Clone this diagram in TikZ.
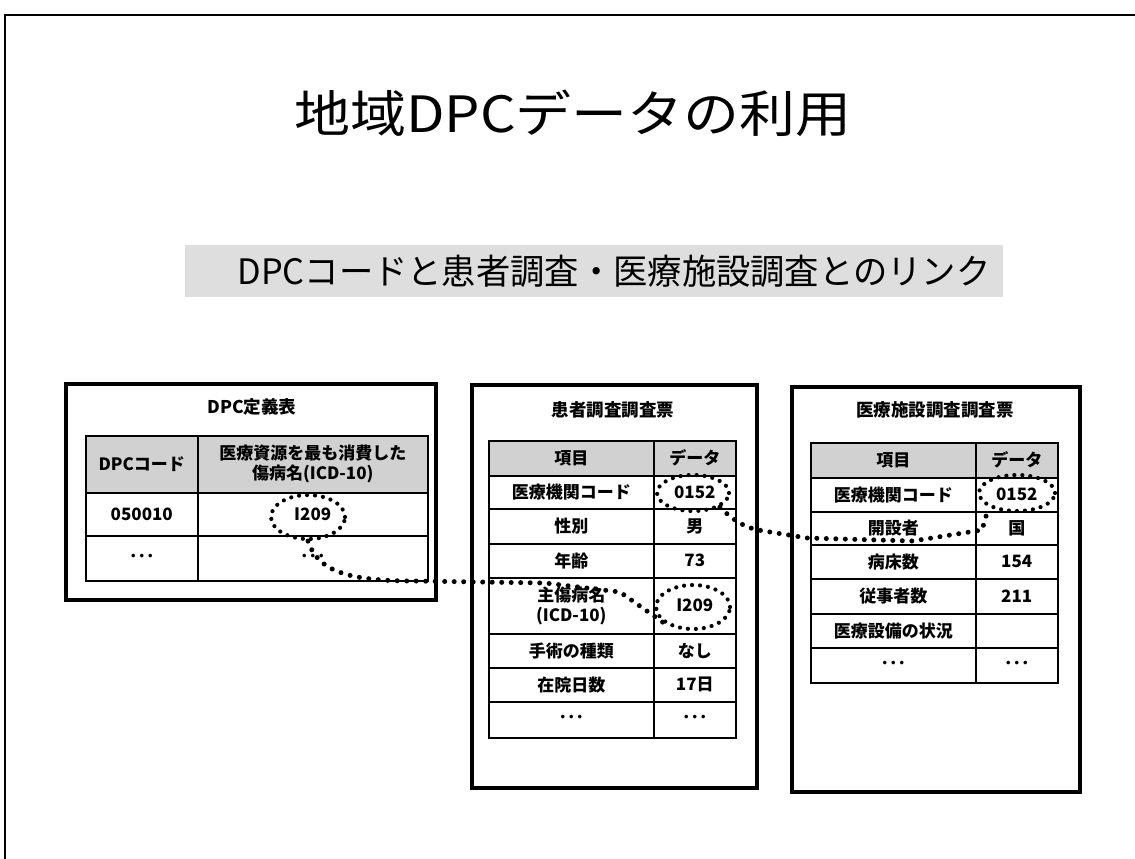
\documentclass[tikz,border=0pt]{standalone}
\usepackage{fontspec}
\setmainfont{Noto Sans CJK JP}
\usetikzlibrary{shapes.geometric}
\tikzset{
  frame/.style={draw=black,line width=3.6pt},
  tcell/.style={draw=black,line width=1.5pt,inner sep=0pt,font=\bfseries\fontsize{17}{20}\selectfont,align=center,anchor=north west},
  hcell/.style={tcell,fill=black!18},
  boxtitle/.style={font=\bfseries\fontsize{17.5}{20}\selectfont,inner sep=0pt},
  ring/.style={ellipse,draw=black,line width=4.2pt,dash pattern=on 0pt off 8pt,line cap=round,inner sep=0pt},
  link/.style={draw=black,line width=5pt,dash pattern=on 0pt off 9.5pt,line cap=round},
}
\newcommand\tc[7][tcell]{\node[#1,minimum width={(#4-#2)*1pt},minimum height={(#5-#3)*1pt}] (#6) at (#2,#3) {#7};}
\begin{document}
\begin{tikzpicture}[x=1pt,y=-1pt]
\useasboundingbox (0,0) rectangle (1135,859);
\fill[white] (0,0) rectangle (1135,859);
% slide frame
\draw[line width=2pt] (5,859) -- (5,15) -- (1135,15);
% title
\node[inner sep=0pt,font=\fontsize{50}{56}\selectfont] (title) at (573,113) {\scalebox{1.12}[1]{地域DPCデータの利用}};
% subtitle band
\node[fill=black!13,minimum width=818pt,minimum height=52pt,inner sep=0pt] (band) at (594,271) {};
\node[inner sep=0pt,font=\fontsize{35}{40}\selectfont] (sub) at (614,271) {\scalebox{0.98}[1]{DPCコードと患者調査・医療施設調査とのリンク}};

% ---------- box 1 ----------
\draw[frame] (66,384) rectangle (436,600);
\node[boxtitle] (t1) at (252,407) {DPC定義表};
\tc[hcell]{85}{435}{197}{492}{a11}{DPCコード}
\tc[hcell]{197}{435}{427}{492}{a12}{医療資源を最も消費した\\傷病名(ICD-10)}
\tc{85}{492}{197}{535}{a21}{050010}
\tc{197}{492}{427}{535}{a22}{I209}
\tc{85}{535}{197}{580}{a31}{･･･}
\tc{197}{535}{427}{580}{a32}{･･･}

% ---------- box 2 ----------
\draw[frame] (472,385) rectangle (757,788);
\node[boxtitle] (t2) at (613,410) {患者調査調査票};
\tc[hcell]{488}{440}{653}{475}{b11}{項目}
\tc[hcell]{653}{440}{735}{475}{b12}{データ}
\tc{488}{475}{653}{508}{b21}{医療機関コード}
\tc{653}{475}{735}{508}{b22}{0152}
\tc{488}{508}{653}{543}{b31}{性別}
\tc{653}{508}{735}{543}{b32}{男}
\tc{488}{543}{653}{577}{b41}{年齢}
\tc{653}{543}{735}{577}{b42}{73}
\tc{488}{577}{653}{633}{b51}{主傷病名\\(ICD-10)}
\tc{653}{577}{735}{633}{b52}{I209}
\tc{488}{633}{653}{667}{b61}{手術の種類}
\tc{653}{633}{735}{667}{b62}{なし}
\tc{488}{667}{653}{701}{b71}{在院日数}
\tc{653}{667}{735}{701}{b72}{17日}
\tc{488}{701}{653}{737}{b81}{･･･}
\tc{653}{701}{735}{737}{b82}{･･･}

% ---------- box 3 ----------
\draw[frame] (792,387) rectangle (1080,792);
\node[boxtitle] (t3) at (935,410) {医療施設調査調査票};
\tc[hcell]{810}{442}{975}{477}{c11}{項目}
\tc[hcell]{975}{442}{1057}{477}{c12}{データ}
\tc{810}{477}{975}{511}{c21}{医療機関コード}
\tc{975}{477}{1057}{511}{c22}{0152}
\tc{810}{511}{975}{544}{c31}{開設者}
\tc{975}{511}{1057}{544}{c32}{国}
\tc{810}{544}{975}{578}{c41}{病床数}
\tc{975}{544}{1057}{578}{c42}{154}
\tc{810}{578}{975}{613}{c51}{従事者数}
\tc{975}{578}{1057}{613}{c52}{211}
\tc{810}{613}{975}{647}{c61}{医療設備の状況}
\tc{975}{613}{1057}{647}{c62}{}
\tc{810}{647}{975}{682}{c71}{･･･}
\tc{975}{647}{1057}{682}{c72}{･･･}

% ---------- dotted rings ----------
\node[ring,minimum width=74pt,minimum height=44pt] (r1) at (308,517) {};
\node[ring,minimum width=72pt,minimum height=36pt] (r2) at (693,493) {};
\node[ring,minimum width=74pt,minimum height=44pt] (r3) at (693,607) {};
\node[ring,minimum width=76pt,minimum height=36pt] (r4) at (1017,493) {};

% ---------- links ----------
\coordinate (p1) at (415,581);
\coordinate (p2) at (545,583);
\coordinate (p3) at (620,592);
\draw[link] (r1.south) .. controls (318,572) and (350,581) .. (p1) -- (p2) -- (p3) -- (r3.south west);
\coordinate (q1) at (758,530);
\coordinate (q2) at (807,538);
\coordinate (q3) at (913,541);
\coordinate (q4) at (982,530);
\draw[link] (r2.south east) .. controls (735,522) and (745,527) .. (q1) -- (q2) -- (q3) -- (q4) -- (r4.south west);
\end{tikzpicture}
\end{document}
